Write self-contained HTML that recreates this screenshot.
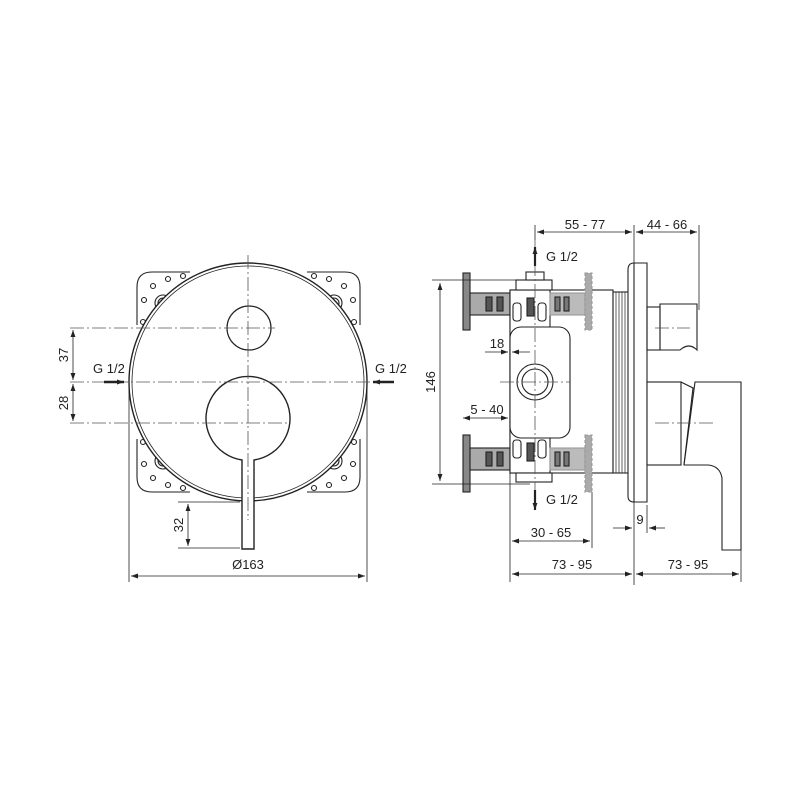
<!DOCTYPE html>
<html><head><meta charset="utf-8"><style>html,body{margin:0;padding:0;background:#fff}svg{display:block}</style></head>
<body>
<svg width="800" height="800" viewBox="0 0 800 800" xmlns="http://www.w3.org/2000/svg" font-family="Liberation Sans, sans-serif" font-size="13" fill="none" stroke="#222" stroke-width="1.2">
<defs>
<marker id="a" viewBox="0 0 10 10" refX="10" refY="5" markerWidth="9" markerHeight="7" orient="auto-start-reverse" markerUnits="userSpaceOnUse"><path d="M0,1.5 L10,5 L0,8.5z" fill="#222" stroke="none"/></marker>
</defs>
<!-- LEFT VIEW -->
<g id="br" stroke-width="1.1">
<path d="M190,272 H152 Q137,272 137,287 V325"/>
<circle cx="163" cy="303" r="8"/><circle cx="163" cy="303" r="5"/>
<circle cx="144" cy="300" r="2.5"/><circle cx="153" cy="286" r="2.5"/><circle cx="168" cy="279" r="2.5"/><circle cx="183" cy="276" r="2.5"/><circle cx="143" cy="322" r="2.5"/>
</g>
<use href="#br" transform="translate(497,0) scale(-1,1)"/>
<use href="#br" transform="translate(0,764) scale(1,-1)"/>
<use href="#br" transform="translate(497,764) scale(-1,-1)"/>
<circle cx="248" cy="382" r="119" fill="#fff" stroke-width="1.4"/>
<circle cx="248" cy="382" r="116" stroke-width="0.8"/>
<circle cx="249" cy="328" r="22"/>
<path d="M242,460 A42,42 0 1 1 254,460 V549 H242 Z" fill="#fff" stroke-width="1.4"/>
<g stroke="#555" stroke-width="0.8" stroke-dasharray="14,3,2,3">
<path d="M248,255 V520"/><path d="M70,328 H275"/><path d="M70,382 H395"/><path d="M70,423 H290"/>
</g>
<g stroke-width="0.8">
<path d="M73,330 V380" marker-start="url(#a)" marker-end="url(#a)"/>
<path d="M73,384 V421" marker-start="url(#a)" marker-end="url(#a)"/>
<path d="M178,502 H240 M178,548 H240"/>
<path d="M188,504 V546" marker-start="url(#a)" marker-end="url(#a)"/>
<path d="M129,384 V582 M367,384 V582"/>
<path d="M131,576 H365" marker-start="url(#a)" marker-end="url(#a)"/>
</g>
<path d="M104,382 H124" stroke-width="2.5" marker-end="url(#a)"/>
<path d="M394,382 H373" stroke-width="2.5" marker-end="url(#a)"/>
<g fill="#222" stroke="none">
<text x="93" y="373">G 1/2</text><text x="375" y="373">G 1/2</text>
<text transform="translate(68,355) rotate(-90)" text-anchor="middle">37</text>
<text transform="translate(68,403) rotate(-90)" text-anchor="middle">28</text>
<text transform="translate(183,525) rotate(-90)" text-anchor="middle">32</text>
<text x="248" y="569" text-anchor="middle">Ø163</text>
</g>
<!-- RIGHT VIEW -->
<g stroke-width="1.1">
<rect x="463" y="273" width="7" height="57" fill="#888"/>
<rect x="463" y="435" width="7" height="57" fill="#888"/>
<rect x="470" y="293" width="40" height="22" fill="#aaa"/>
<rect x="470" y="448" width="40" height="22" fill="#aaa"/>
<rect x="486" y="297" width="6" height="14" fill="#555"/><rect x="497" y="297" width="6" height="14" fill="#555"/>
<rect x="486" y="452" width="6" height="14" fill="#555"/><rect x="497" y="452" width="6" height="14" fill="#555"/>
<rect x="510" y="290" width="103" height="183" fill="#fff"/>
<rect x="510" y="290" width="40" height="183" fill="#fff"/>
<rect x="550" y="293" width="35" height="22" fill="#bbb" stroke="#999"/><rect x="550" y="448" width="35" height="22" fill="#bbb" stroke="#999"/>
<rect x="555" y="297" width="5" height="14" fill="#777"/><rect x="564" y="297" width="5" height="14" fill="#777"/>
<rect x="555" y="452" width="5" height="14" fill="#777"/><rect x="564" y="452" width="5" height="14" fill="#777"/>
<rect x="585" y="273" width="7" height="57" fill="#aaa" stroke="#999" stroke-dasharray="3,2"/>
<rect x="585" y="435" width="7" height="57" fill="#aaa" stroke="#999" stroke-dasharray="3,2"/>
<rect x="516" y="280" width="36" height="10" fill="#fff"/><rect x="526" y="272" width="18" height="8" fill="#fff"/>
<rect x="516" y="473" width="36" height="9" fill="#fff"/>
<rect x="513" y="303" width="8" height="18" rx="3"/><rect x="538" y="303" width="8" height="18" rx="3"/>
<rect x="527" y="298" width="7" height="18" fill="#555"/>
<rect x="513" y="440" width="8" height="18" rx="3"/><rect x="538" y="440" width="8" height="18" rx="3"/>
<rect x="527" y="443" width="7" height="18" fill="#555"/>
<rect x="510" y="327" width="60" height="111" rx="11" fill="#fff"/>
<circle cx="535" cy="382" r="18"/><circle cx="535" cy="382" r="13"/>
<rect x="613" y="292" width="17" height="181"/>
<path d="M616,292 V473 M619,292 V473 M622,292 V473 M625,292 V473 M628,292 V473" stroke-width="0.7"/>
<path d="M634,263 H647 V502 H634 Q628,502 628,496 V270 Q628,263 634,263 Z" fill="#fff"/>
<path d="M634,263 V502"/>
<rect x="647" y="307" width="13" height="43"/>
<path d="M660,304 H697 V350 Q689,342 680,350 H660 Z"/>
<rect x="647" y="382" width="34" height="83" fill="#fff"/>
<path d="M681,382 L693,388 L684,465"/>
<path d="M695,382 H741 V550 H722 V478 Q720,466 708,465 H684 L695,382 Z" fill="#fff"/>
</g>
<g stroke="#555" stroke-width="0.8" stroke-dasharray="14,3,2,3">
<path d="M535,240 V500"/><path d="M500,382 H570"/><path d="M655,328 H690"/><path d="M655,423 H715"/>
</g>
<g stroke-width="0.8">
<path d="M535,225 V240 M634,225 V585 M699,225 V310 M510,473 V582 M592,492 V548 M741,550 V582"/>
<path d="M537,232 H632" marker-start="url(#a)" marker-end="url(#a)"/>
<path d="M636,232 H697" marker-start="url(#a)" marker-end="url(#a)"/>
<path d="M432,280 H530 M432,484 H530"/>
<path d="M440,283 V481" marker-start="url(#a)" marker-end="url(#a)"/>
<path d="M485,352 H508" marker-end="url(#a)"/><path d="M530,352 H512" marker-end="url(#a)"/>
<path d="M463,418 H508" marker-start="url(#a)" marker-end="url(#a)"/>
<path d="M512,541 H590" marker-start="url(#a)" marker-end="url(#a)"/>
<path d="M512,574 H632" marker-start="url(#a)" marker-end="url(#a)"/>
<path d="M636,574 H739" marker-start="url(#a)" marker-end="url(#a)"/>
<path d="M613,528 H632" marker-end="url(#a)"/><path d="M665,528 H649" marker-end="url(#a)"/>
<path d="M647,505 V533"/>
</g>
<path d="M535,266 V247" stroke-width="2.2" marker-end="url(#a)"/>
<path d="M535,490 V510" stroke-width="2.2" marker-end="url(#a)"/>
<g fill="#222" stroke="none">
<text x="546" y="261">G 1/2</text><text x="546" y="504">G 1/2</text>
<text x="585" y="229" text-anchor="middle">55 - 77</text>
<text x="667" y="229" text-anchor="middle">44 - 66</text>
<text transform="translate(435,382) rotate(-90)" text-anchor="middle">146</text>
<text x="497" y="348" text-anchor="middle">18</text>
<text x="487" y="414" text-anchor="middle">5 - 40</text>
<text x="551" y="537" text-anchor="middle">30 - 65</text>
<text x="572" y="569" text-anchor="middle">73 - 95</text>
<text x="688" y="569" text-anchor="middle">73 - 95</text>
<text x="640" y="524" text-anchor="middle">9</text>
</g>
</svg>
</body></html>
